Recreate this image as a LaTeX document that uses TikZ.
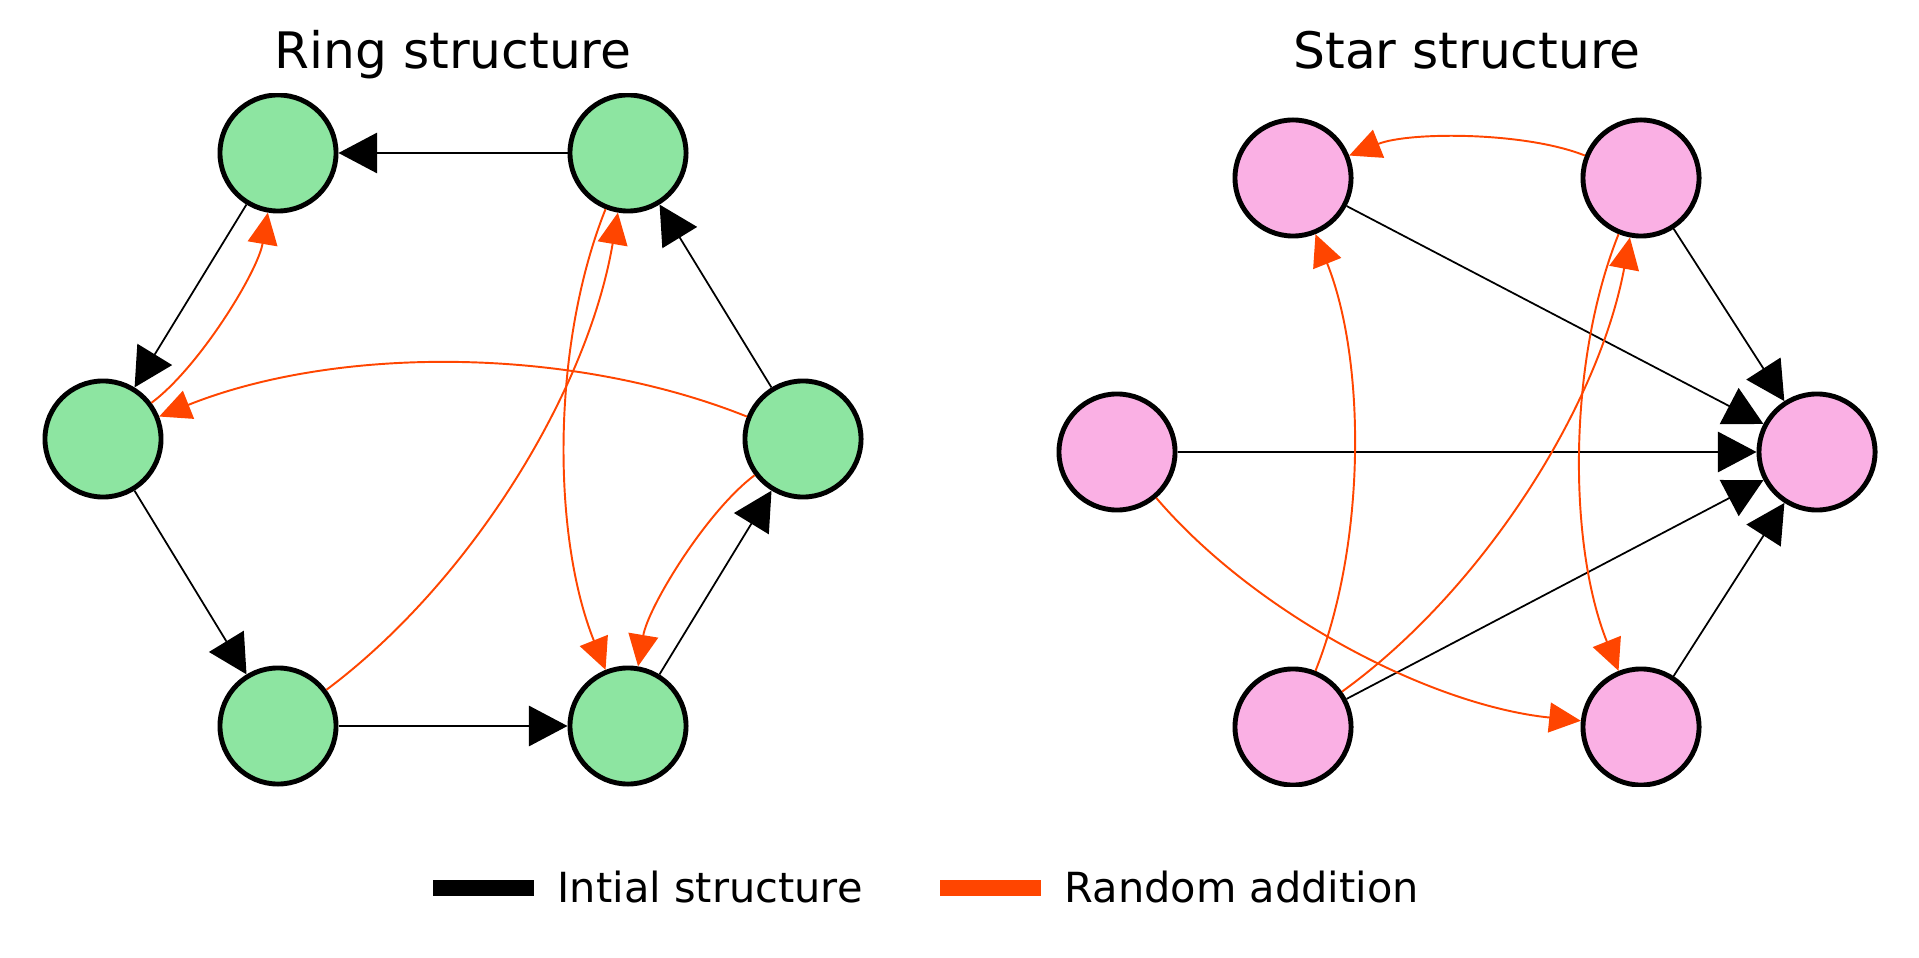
\documentclass[tikz,border=0pt]{standalone}
\usepackage{fontspec}
\setmainfont{DejaVu Sans}
\usetikzlibrary{arrows.meta,calc}
\definecolor{pastelgreen}{HTML}{8DE5A1}
\definecolor{pastelpink}{HTML}{FAB0E4}
\definecolor{randorange}{HTML}{FF4500}

\begin{document}
\begin{tikzpicture}[x=0.01cm, y=0.01cm,
        vertex/.style={circle, draw=black, line width=1.4pt, minimum size=1.16cm, inner sep=0pt},
        initedge/.style={draw=black, line width=0.5pt, -{Triangle[length=11pt, width=11.5pt]}},
        randedge/.style={draw=randorange, line width=0.55pt, -{Triangle[length=9pt, width=8.5pt]}},
        paneltitle/.style={anchor=base, inner sep=0pt, font=\fontsize{14.3}{17}\selectfont},
        legendtext/.style={anchor=base west, inner sep=0pt, font=\fontsize{11.8}{14}\selectfont}]
        \useasboundingbox (0,0) rectangle (1919,957);
        % curved added edge, bent to the right of its direction
        \def\randarc#1#2{\draw[randedge] (#1) .. controls ($(#1)!1/3!(#2)!0.2!-90:(#2)$) and ($(#1)!2/3!(#2)!0.2!90:(#1)$) .. (#2);}

        \node[paneltitle] (ringtitle) at (453,888) {Ring structure};
        \node[paneltitle] (startitle) at (1467,888) {Star structure};

        % nodes, cut off at the top and bottom of the panels
        \begin{scope}
            \clip (0,171) rectangle (1919,863);
            \node[vertex, fill=pastelgreen] (r1) at (803,518) {};
            \node[vertex, fill=pastelgreen] (r2) at (628,804) {};
            \node[vertex, fill=pastelgreen] (r3) at (278,804) {};
            \node[vertex, fill=pastelgreen] (r4) at (103,518) {};
            \node[vertex, fill=pastelgreen] (r5) at (278,231) {};
            \node[vertex, fill=pastelgreen] (r6) at (628,231) {};

            \node[vertex, fill=pastelpink] (s1) at (1817,505) {};
            \node[vertex, fill=pastelpink] (s2) at (1641,779) {};
            \node[vertex, fill=pastelpink] (s3) at (1293,779) {};
            \node[vertex, fill=pastelpink] (s4) at (1117,505) {};
            \node[vertex, fill=pastelpink] (s5) at (1293,230) {};
            \node[vertex, fill=pastelpink] (s6) at (1641,230) {};
        \end{scope}

        % ring
        \draw[initedge] (r2) -- (r3);
        \draw[initedge] (r3) -- (r4);
        \draw[initedge] (r4) -- (r5);
        \draw[initedge] (r5) -- (r6);
        \draw[initedge] (r6) -- (r1);
        \draw[initedge] (r1) -- (r2);
        \randarc{r4}{r3}
        \randarc{r1}{r4}
        \randarc{r5}{r2}
        \randarc{r2}{r6}
        \randarc{r1}{r6}

        % star
        \foreach \i in {2,...,6}
            \draw[initedge] (s\i) -- (s1);
        \randarc{s2}{s3}
        \randarc{s5}{s3}
        \randarc{s5}{s2}
        \randarc{s2}{s6}
        \randarc{s4}{s6}

        % legend
        \fill[black] (433,61.5) rectangle (534,77.5);
        \node[legendtext] (initlabel) at (557,55) {Intial structure};
        \fill[randorange] (940,61.5) rectangle (1041,77.5);
        \node[legendtext] (randlabel) at (1064,55) {Random addition};
\end{tikzpicture}
\end{document}
